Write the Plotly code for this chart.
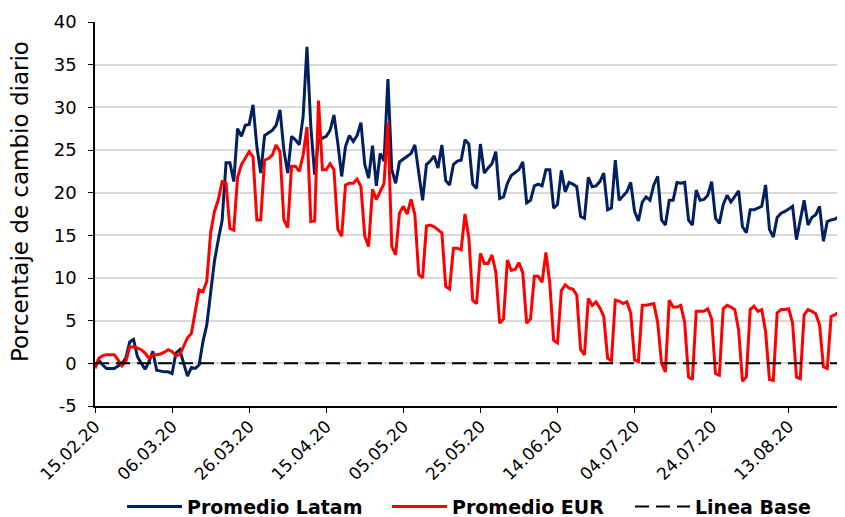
import pandas as pd
import plotly.graph_objects as go

start_date = "2020-02-15"

promedio_latam = [
    -0.4, 0.4, -0.2, -0.6, -0.6, -0.6, -0.3, 0.0, 0.6, 2.5,
    2.8, 0.8, 0.0, -0.7, 0.2, 1.4, -0.8, -0.9, -1.0, -1.0,
    -1.2, 1.2, 1.6, 0.0, -1.5, -0.5, -0.6, -0.2, 2.5, 4.5,
    8.5, 12.0, 14.5, 16.8, 23.5, 23.5, 21.3, 27.5, 26.6, 27.9,
    28.0, 30.3, 25.4, 22.3, 26.7, 27.0, 27.3, 27.9, 29.7, 25.0,
    22.3, 26.6, 26.2, 25.6, 28.9, 37.1, 27.7, 22.1, 26.2, 26.4,
    26.6, 27.3, 29.1, 25.8, 21.9, 25.4, 26.7, 26.0, 26.7, 28.2,
    23.3, 21.7, 25.5, 20.8, 24.6, 23.7, 33.3, 22.7, 21.1, 23.6,
    23.9, 24.2, 24.6, 25.6, 22.3, 19.1, 23.3, 23.7, 24.3, 22.9,
    25.6, 21.4, 20.9, 23.3, 23.7, 23.8, 26.2, 25.7, 21.0, 20.5,
    25.7, 22.3, 22.9, 23.4, 24.8, 19.3, 19.5, 21.1, 22.0, 22.3,
    22.7, 23.6, 18.8, 19.1, 20.8, 21.0, 20.8, 22.7, 22.7, 18.2,
    18.6, 22.6, 20.1, 21.2, 21.0, 20.7, 17.2, 17.0, 21.8, 20.7,
    20.8, 21.3, 22.3, 18.0, 18.2, 23.8, 19.1, 19.6, 20.1, 21.2,
    17.8, 16.7, 18.9, 19.5, 19.1, 20.9, 21.9, 16.8, 16.2, 19.1,
    19.1, 21.2, 21.1, 21.2, 16.8, 16.2, 20.3, 19.1, 19.2, 19.7,
    21.3, 17.0, 16.4, 18.6, 19.7, 18.9, 19.5, 20.2, 16.0, 15.3,
    18.0, 18.0, 18.2, 18.4, 20.9, 15.7, 14.8, 17.1, 17.6, 17.8,
    18.1, 18.4, 14.5, 16.8, 19.1, 16.2, 17.1, 17.4, 18.4, 14.3,
    16.6, 16.8, 16.9, 17.2, 16.3, 15.8,
]

promedio_eur = [
    -0.6, 0.6, 0.9, 1.0, 1.0, 1.0, 0.4, -0.3, 0.2, 1.9,
    1.9, 1.8, 1.6, 1.2, 0.6, 1.0, 1.0, 1.1, 1.3, 1.6,
    1.4, 0.9, 1.0, 2.0, 3.0, 3.5, 5.9, 8.6, 8.4, 9.6,
    15.3, 17.8, 19.2, 21.3, 21.1, 15.8, 15.6, 21.8, 23.3, 24.0,
    24.8, 24.2, 16.8, 16.8, 23.8, 24.0, 24.4, 25.6, 24.8, 16.8,
    15.9, 23.1, 23.1, 22.5, 24.4, 27.7, 16.6, 16.7, 30.8, 22.7,
    22.7, 23.4, 22.7, 15.7, 14.9, 20.9, 21.1, 21.1, 21.6, 20.7,
    14.9, 13.7, 20.4, 19.2, 20.2, 21.1, 28.2, 13.7, 12.7, 17.6,
    18.4, 17.5, 19.2, 17.4, 10.4, 10.0, 16.1, 16.2, 16.0, 15.7,
    15.3, 9.0, 8.7, 13.5, 13.5, 13.3, 17.5, 14.7, 7.4, 7.0,
    12.9, 11.7, 11.7, 12.7, 10.7, 4.7, 5.2, 12.1, 10.9, 11.0,
    11.8, 10.6, 4.7, 5.2, 10.2, 10.2, 9.5, 13.0, 9.4, 2.7,
    2.4, 8.5, 9.2, 8.8, 8.7, 8.0, 1.6, 1.0, 7.6, 6.8,
    7.2, 6.5, 5.5, 0.6, 0.3, 7.4, 7.3, 7.0, 7.2, 5.9,
    0.4, 0.2, 6.8, 6.8, 6.9, 7.0, 4.8, 0.0, -1.0, 7.4,
    6.6, 6.6, 6.8, 4.8, -1.6, -1.9, 6.1, 6.1, 6.1, 6.4,
    5.2, -1.2, -1.4, 6.4, 6.8, 6.6, 6.3, 3.9, -2.1, -1.6,
    6.3, 6.7, 6.1, 6.3, 3.7, -1.9, -2.0, 5.9, 6.3, 6.3,
    6.4, 4.7, -1.6, -1.8, 5.7, 6.3, 6.1, 5.8, 4.5, -0.4,
    -0.6, 5.5, 5.7, 6.0, 3.2, 1.5,
]

linea_base = [0.0] * len(promedio_latam)

dates = pd.date_range(start_date, periods=len(promedio_latam), freq="D")

y_ticks = [-5, 0, 5, 10, 15, 20, 25, 30, 35, 40]
y_tick_labels = ["-5", "0", "5", "10", "15", "20", "25", "30", "35", "40"]

FONT = "DejaVu Sans"

fig = go.Figure()
fig.add_trace(go.Scatter(
    x=dates, y=promedio_latam, mode="lines", name="Promedio Latam",
    line=dict(color="#002060", width=3), legendwidth=195,
))
fig.add_trace(go.Scatter(
    x=dates, y=promedio_eur, mode="lines", name="Promedio EUR",
    line=dict(color="#FF0000", width=3), legendwidth=173,
))
fig.add_trace(go.Scatter(
    x=dates, y=linea_base, mode="lines", name="Linea Base",
    line=dict(color="#000000", width=2, dash="14px,7px"), legendwidth=118,
))

x_end = pd.Timestamp(start_date) + pd.Timedelta(days=194.6)

# The page body adds an 8px offset, so the figure is 8px smaller than the window.
fig.update_layout(
    width=837, height=509,
    margin=dict(l=87, r=0, t=14, b=111, autoexpand=False),
    paper_bgcolor="white", plot_bgcolor="white",
    font=dict(family=FONT, color="black", size=18),
    showlegend=True,
    legend=dict(
        orientation="h", x=0.5, xanchor="center", y=-0.262, yanchor="middle",
        font=dict(family=FONT, size=19, color="black", weight="bold"),
        itemwidth=55, traceorder="normal",
    ),
    xaxis=dict(
        type="date", range=[pd.Timestamp(start_date), x_end],
        tick0=start_date, dtick=20 * 86400000, tickformat="%d.%m.%y",
        tickangle=-45, ticks="outside", ticklen=5, tickcolor="black",
        showline=True, linecolor="black", linewidth=1.5,
        showgrid=False, zeroline=False, automargin=False,
        ticklabelstandoff=-3,
        tickfont=dict(family=FONT, size=17, color="black"),
    ),
    yaxis=dict(
        range=[-5, 40], tickvals=y_ticks, ticktext=y_tick_labels,
        ticks="outside", ticklen=5, tickcolor="black",
        showline=True, linecolor="black", linewidth=1.5,
        showgrid=True, gridcolor="#d9d9d9", gridwidth=1.5,
        zeroline=False, automargin=False, ticklabelstandoff=8,
        tickfont=dict(family=FONT, size=18, color="black"),
    ),
    annotations=[dict(
        text="Porcentaje de cambio diario", textangle=-90,
        xref="paper", yref="paper", x=-0.1, y=0.531,
        xanchor="center", yanchor="middle", showarrow=False,
        font=dict(family=FONT, size=23, color="black"),
    )],
)

fig.write_html("out.html")
